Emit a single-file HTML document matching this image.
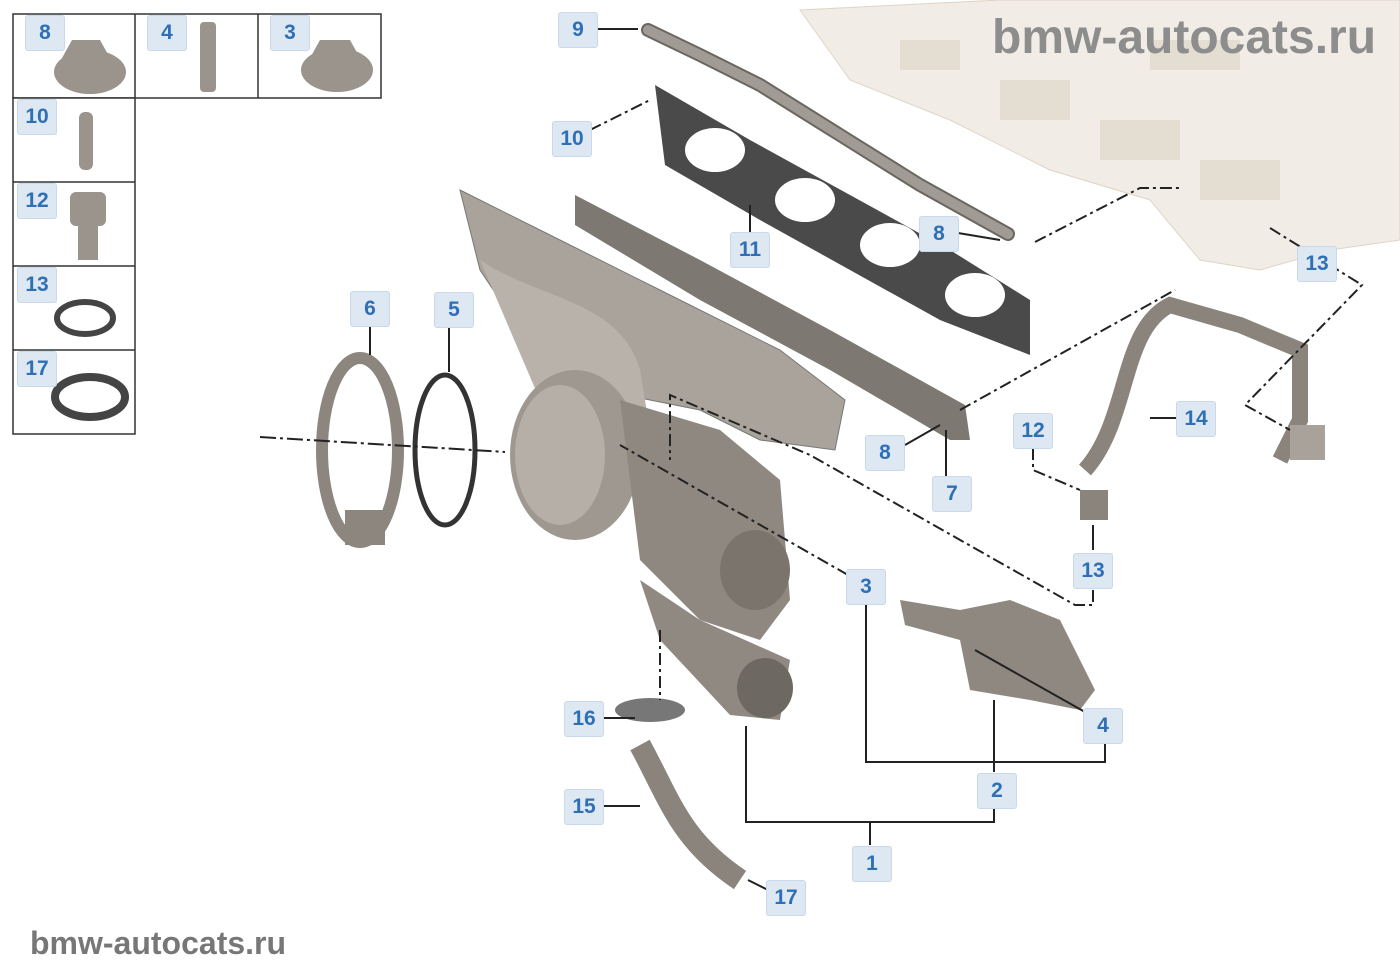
<!DOCTYPE html>
<html><head><style>
body{margin:0;background:#fff;width:1400px;height:980px;overflow:hidden;font-family:"Liberation Sans",sans-serif}
.l{position:absolute;width:38px;height:34px;background:#dde8f3;border:1px solid #c9d8ea;border-radius:3px;color:#2f6fb5;font-weight:bold;font-size:21px;text-align:center;line-height:34px}
.wm{position:absolute;color:#8a8a8a;font-weight:bold}
</style></head><body>
<svg width="1400" height="980" style="position:absolute;left:0;top:0">
<!-- engine head -->
<path d="M800 10 L1000 0 L1400 0 L1400 240 L1330 250 L1260 270 L1200 260 L1150 200 L1050 170 L950 120 L850 80 Z" fill="#f1ede6" stroke="#ddd4c6"/>
<g fill="#e4ddd1"><rect x="900" y="40" width="60" height="30"/><rect x="1000" y="80" width="70" height="40"/><rect x="1100" y="120" width="80" height="40"/><rect x="1200" y="160" width="80" height="40"/><rect x="1150" y="40" width="90" height="30"/></g>
<!-- gasket 9 -->
<path d="M648 30 L700 55 L760 85 L840 135 L920 185 L1008 234" fill="none" stroke="#6b665f" stroke-width="14" stroke-linecap="round"/>
<path d="M648 30 L700 55 L760 85 L840 135 L920 185 L1008 234" fill="none" stroke="#a09b94" stroke-width="10" stroke-linecap="round"/>
<!-- gasket 11 -->
<path d="M655 85 L750 140 L850 195 L950 250 L1030 300 L1030 355 L940 320 L850 270 L760 220 L665 165 Z" fill="#4a4a4a"/>
<g fill="#fff"><ellipse cx="715" cy="150" rx="30" ry="22"/><ellipse cx="805" cy="200" rx="30" ry="22"/><ellipse cx="890" cy="245" rx="30" ry="22"/><ellipse cx="975" cy="295" rx="30" ry="22"/></g>
<!-- gasket 7 -->
<path d="M575 195 L700 260 L830 330 L965 405 L970 440 L950 440 L830 370 L700 300 L575 225 Z" fill="#7d7872"/>
<!-- manifold -->
<path d="M460 190 L540 230 L660 290 L780 350 L845 400 L835 450 L760 440 L700 410 L650 400 L600 390 L520 330 L480 270 Z" fill="#a9a39b" stroke="#777"/>
<path d="M480 260 C540 300 620 300 640 370 L650 430 C600 450 560 420 540 400 Z" fill="#b8b2aa"/>
<!-- turbo -->
<ellipse cx="575" cy="455" rx="65" ry="85" fill="#9e9890"/>
<ellipse cx="560" cy="455" rx="45" ry="70" fill="#b5afa7"/>
<path d="M620 400 L720 430 L780 480 L790 600 L760 640 L700 620 L640 560 Z" fill="#8e8880"/>
<ellipse cx="755" cy="570" rx="35" ry="40" fill="#7a746d"/>
<path d="M640 580 L700 620 L790 660 L780 720 L730 715 L660 640 Z" fill="#8f8982"/>
<ellipse cx="765" cy="688" rx="28" ry="30" fill="#6e6862"/>
<!-- clamp 6 -->
<ellipse cx="360" cy="450" rx="38" ry="92" fill="none" stroke="#8c867e" stroke-width="12"/>
<rect x="345" y="510" width="40" height="35" fill="#8c867e"/>
<!-- ring 5 -->
<ellipse cx="445" cy="450" rx="30" ry="75" fill="none" stroke="#333" stroke-width="5"/>
<!-- actuator -->
<path d="M900 600 L960 610 L1010 600 L1060 620 L1095 690 L1080 710 L1030 700 L970 690 L960 640 L905 625 Z" fill="#8e8880"/>
<!-- pipe 14 -->
<path d="M1085 470 C1130 420 1120 330 1170 305 L1240 325 L1300 350 L1300 420 L1280 460" fill="none" stroke="#8a847c" stroke-width="16"/>
<rect x="1080" y="490" width="28" height="30" fill="#8a847c"/>
<rect x="1290" y="425" width="35" height="35" fill="#a8a29a"/>
<!-- pipe 15 -->
<path d="M640 745 C670 800 680 840 740 880" fill="none" stroke="#8a847c" stroke-width="22"/>
<ellipse cx="650" cy="710" rx="35" ry="12" fill="#777"/>
<!-- lines -->
<g stroke="#222" stroke-width="2" fill="none">
<path d="M598 29 H638"/>
<path d="M590 130 L650 100" stroke-dasharray="12 4 3 4"/>
<path d="M750 232 V205"/>
<path d="M958 233 L1000 240"/>
<path d="M1035 242 L1140 188 H1180" stroke-dasharray="12 4 3 4"/>
<path d="M1270 228 L1362 285 L1245 405 L1290 430" stroke-dasharray="12 4 3 4"/>
<path d="M370 326 V355"/><path d="M449 326 V372"/>
<path d="M260 437 L505 452" stroke-dasharray="16 4 3 4"/>
<path d="M1176 418 H1150"/>
<path d="M1033 448 V470 L1080 490" stroke-dasharray="12 4 3 4"/>
<path d="M905 445 L940 425"/><path d="M960 410 L1175 290" stroke-dasharray="12 4 3 4"/>
<path d="M946 476 V430"/>
<path d="M1093 550 V525"/>
<path d="M1093 590 V605 H1075 L810 455 L670 395 V460" stroke-dasharray="12 4 3 4"/>
<path d="M848 575 L620 445" stroke-dasharray="12 4 3 4"/>
<path d="M866 604 V762 H1105 V744"/>
<path d="M975 650 L1085 712"/>
<path d="M994 700 V772"/>
<path d="M746 726 V822 H994 V808"/><path d="M870 822 V845"/>
<path d="M604 718 H635"/><path d="M604 806 H640"/>
<path d="M660 630 V700" stroke-dasharray="12 4 3 4"/>
<path d="M748 880 L768 890"/>
</g>
<!-- inset -->
<g stroke="#333" stroke-width="1.5" fill="#fff">
<rect x="13" y="14" width="368" height="84"/>
<line x1="135" y1="14" x2="135" y2="98"/><line x1="258" y1="14" x2="258" y2="98"/>
<rect x="13" y="98" width="122" height="336"/>
<line x1="13" y1="182" x2="135" y2="182"/><line x1="13" y1="266" x2="135" y2="266"/><line x1="13" y1="350" x2="135" y2="350"/>
</g>
<g fill="#9a948c">
<ellipse cx="90" cy="72" rx="36" ry="22"/><polygon points="72,40 100,40 110,58 100,76 72,76 62,58"/>
<rect x="200" y="22" width="16" height="70" rx="4"/>
<ellipse cx="337" cy="70" rx="36" ry="22"/><polygon points="320,40 350,40 360,58 350,76 320,76 310,58"/>
<rect x="79" y="112" width="14" height="58" rx="6"/>
<rect x="70" y="192" width="36" height="34" rx="6"/><rect x="78" y="226" width="20" height="34"/>
</g>
<ellipse cx="85" cy="318" rx="28" ry="16" fill="none" stroke="#444" stroke-width="6"/>
<ellipse cx="90" cy="397" rx="35" ry="20" fill="none" stroke="#444" stroke-width="8"/>
</svg>
<div class="l" style="left:25px;top:15px">8</div>
<div class="l" style="left:147px;top:15px">4</div>
<div class="l" style="left:270px;top:15px">3</div>
<div class="l" style="left:17px;top:99px">10</div>
<div class="l" style="left:17px;top:183px">12</div>
<div class="l" style="left:17px;top:267px">13</div>
<div class="l" style="left:17px;top:351px">17</div>
<div class="l" style="left:558px;top:12px">9</div>
<div class="l" style="left:552px;top:121px">10</div>
<div class="l" style="left:730px;top:232px">11</div>
<div class="l" style="left:919px;top:216px">8</div>
<div class="l" style="left:1297px;top:246px">13</div>
<div class="l" style="left:350px;top:291px">6</div>
<div class="l" style="left:434px;top:292px">5</div>
<div class="l" style="left:1013px;top:413px">12</div>
<div class="l" style="left:1176px;top:401px">14</div>
<div class="l" style="left:865px;top:435px">8</div>
<div class="l" style="left:932px;top:476px">7</div>
<div class="l" style="left:1073px;top:553px">13</div>
<div class="l" style="left:846px;top:569px">3</div>
<div class="l" style="left:1083px;top:708px">4</div>
<div class="l" style="left:977px;top:773px">2</div>
<div class="l" style="left:564px;top:701px">16</div>
<div class="l" style="left:564px;top:789px">15</div>
<div class="l" style="left:852px;top:846px">1</div>
<div class="l" style="left:766px;top:880px">17</div>
<div class="wm" style="left:992px;top:10px;font-size:48px;color:#8d8d8d">bmw-autocats.ru</div>
<div class="wm" style="left:30px;top:925px;font-size:32px;color:#777">bmw-autocats.ru</div>
</body></html>
